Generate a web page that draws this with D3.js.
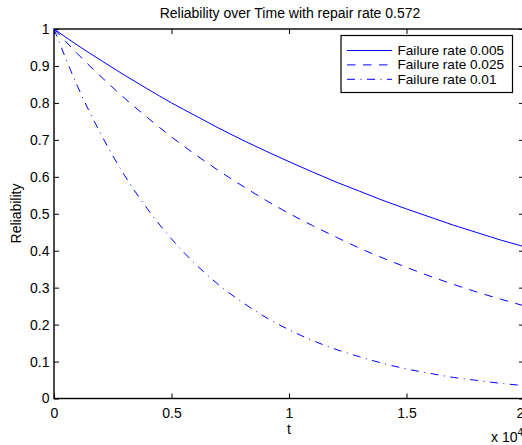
<!DOCTYPE html>
<html>
<head>
<meta charset="utf-8">
<script src="https://cdn.jsdelivr.net/npm/d3@7"></script>
<style>
  body { margin: 0; background: #fff; }
  svg { display: block; font-family: "Liberation Sans", Arial, sans-serif; }
</style>
</head>
<body>
<div id="screen"></div>
<script>
// t in units of 10^4
var tValues = [0, 0.1, 0.2, 0.3, 0.4, 0.5, 0.6, 0.7, 0.8, 0.9, 1.0,
               1.1, 1.2, 1.3, 1.4, 1.5, 1.6, 1.7, 1.8, 1.9, 2.0];
var rel005 = [1.000, 0.956, 0.915, 0.875, 0.837, 0.800, 0.766, 0.732, 0.700, 0.670, 0.641,
              0.613, 0.586, 0.561, 0.536, 0.513, 0.491, 0.469, 0.449, 0.429, 0.411];
var rel025 = [1.000, 0.933, 0.871, 0.813, 0.759, 0.708, 0.661, 0.617, 0.576, 0.537, 0.501,
              0.468, 0.437, 0.407, 0.380, 0.355, 0.331, 0.309, 0.288, 0.269, 0.251];
var rel01 = [1.000, 0.845, 0.715, 0.604, 0.511, 0.432, 0.365, 0.308, 0.261, 0.220, 0.186,
             0.157, 0.133, 0.113, 0.095, 0.080, 0.068, 0.057, 0.049, 0.041, 0.035];
var seriesNames = ["Failure rate 0.005", "Failure rate 0.025", "Failure rate 0.01"];
var xTicks = [0, 0.5, 1, 1.5, 2];
var yTicks = [0, 0.1, 0.2, 0.3, 0.4, 0.5, 0.6, 0.7, 0.8, 0.9, 1];
var titleText = "Reliability over Time with repair rate 0.572";

var width = 522, height = 445;
var box = {left: 54, top: 29, right: 524, bottom: 398.5};
var dashes = [null, "8.5,7.5", "8,5.5,1,5.5"];
var blue = "#0000ff";
var fontSize = "14px";

var svg = d3.select("#screen").append("svg").attr("width", width).attr("height", height);

var x = d3.scaleLinear().domain([0, 2]).range([box.left, box.right]);
var y = d3.scaleLinear().domain([0, 1]).range([box.bottom, box.top]);

// inward ticks on all four sides
var tickLen = 5;
svg.append("g").attr("transform", "translate(0," + box.bottom + ")")
    .call(d3.axisBottom(x).tickValues(xTicks).tickSizeInner(-tickLen).tickSizeOuter(0).tickFormat(d3.format("")))
    .call(g => g.select(".domain").remove())
    .call(g => g.selectAll("text").attr("dy", null).attr("y", 19).style("font-size", fontSize).attr("fill", "#000"));
svg.selectAll(".tick text").filter(d => d === 2).attr("dx", -4);
svg.append("g").attr("transform", "translate(0," + box.top + ")")
    .call(d3.axisTop(x).tickValues(xTicks).tickSizeInner(-tickLen).tickSizeOuter(0).tickFormat(""))
    .call(g => g.select(".domain").remove());
svg.append("g").attr("transform", "translate(" + box.left + ",0)")
    .call(d3.axisLeft(y).tickValues(yTicks).tickSizeInner(-tickLen).tickSizeOuter(0).tickFormat(d3.format("")))
    .call(g => g.select(".domain").remove())
    .call(g => g.selectAll("text").attr("x", -4.5).style("font-size", fontSize).attr("fill", "#000"));
svg.append("g").attr("transform", "translate(" + box.right + ",0)")
    .call(d3.axisRight(y).tickValues(yTicks).tickSizeInner(-tickLen).tickSizeOuter(0).tickFormat(""))
    .call(g => g.select(".domain").remove());

svg.append("rect")
    .attr("x", box.left).attr("y", box.top)
    .attr("width", box.right - box.left).attr("height", box.bottom - box.top)
    .attr("fill", "none").attr("stroke", "#000").attr("stroke-width", 1.4);

var line = d3.line().x((d, i) => x(tValues[i])).y(d => y(d)).curve(d3.curveMonotoneX);

[rel005, rel025, rel01].forEach(function(s, i) {
    svg.append("path").datum(s)
        .attr("d", line)
        .attr("fill", "none")
        .attr("stroke", blue)
        .attr("stroke-width", 1)
        .attr("stroke-dasharray", dashes[i]);
});

// title and labels
svg.append("text").attr("x", 290).attr("y", 17.5).attr("text-anchor", "middle")
    .style("font-size", fontSize).text(titleText);
svg.append("text").attr("x", 289).attr("y", 434).attr("text-anchor", "middle")
    .style("font-size", fontSize).text("t");
svg.append("text").attr("transform", "translate(21,213.5) rotate(-90)").attr("text-anchor", "middle")
    .style("font-size", fontSize).text("Reliability");
var mult = svg.append("text").attr("x", 491).attr("y", 442).style("font-size", fontSize);
mult.append("tspan").text("x 10");
mult.append("tspan").attr("dy", -6).style("font-size", "10px").text("4");

// legend
var legend = svg.append("g");
legend.append("rect").attr("x", 341).attr("y", 35.5).attr("width", 171.5).attr("height", 57)
    .attr("fill", "#fff").attr("stroke", "#000").attr("stroke-width", 1.2);
seriesNames.forEach(function(name, i) {
    var ly = 50.5 + i * 14.4;
    legend.append("line").attr("x1", 347).attr("x2", 392).attr("y1", ly).attr("y2", ly)
        .attr("stroke", blue).attr("stroke-width", 1).attr("stroke-dasharray", dashes[i]);
    legend.append("text").attr("x", 397.5).attr("y", ly + 4.5).style("font-size", "13.6px").text(name);
});
</script>
</body>
</html>
